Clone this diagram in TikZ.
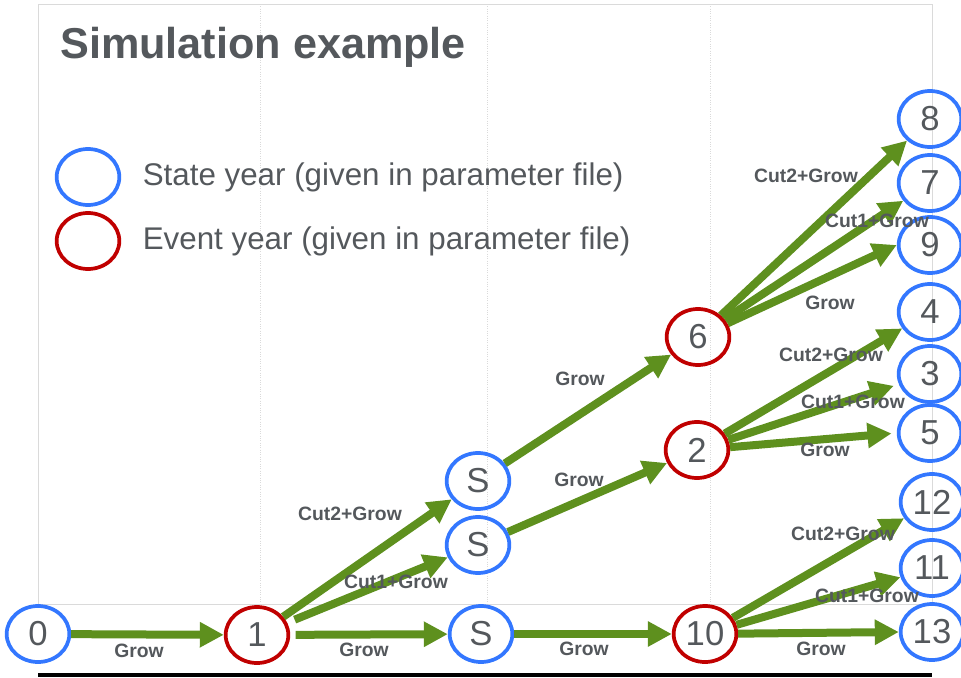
\documentclass[tikz,border=0pt]{standalone}
\usepackage{fontspec}
\setmainfont{Liberation Sans}
\usetikzlibrary{shapes.geometric, arrows.meta, positioning}
\definecolor{stateblue}{RGB}{51, 119, 255}
\definecolor{eventred}{RGB}{192, 0, 0}
\definecolor{growgreen}{RGB}{94, 144, 30}
\definecolor{textgray}{RGB}{84, 88, 92}
\definecolor{gridgray}{RGB}{218, 218, 218}

\tikzset{
  yearnode/.style={ellipse, draw, line width=2.8pt, minimum width=47pt, minimum height=42pt,
    inner sep=0pt, text=textgray, font=\fontsize{26}{26}\selectfont},
  stateyr/.style={yearnode, draw=stateblue},
  eventyr/.style={yearnode, draw=eventred},
  growarrow/.style={-{Triangle[length=18pt, width=18pt]}, line width=6pt, growgreen},
  actlabel/.style={font=\bfseries\fontsize{14.5}{14.5}\selectfont, text=textgray, inner sep=0pt},
  keytext/.style={font=\fontsize{23.5}{23.5}\selectfont, text=textgray, inner sep=0pt, anchor=west},
}

\begin{document}
\begin{tikzpicture}[x=0.75pt, y=-0.75pt]
  \useasboundingbox (0, 0) rectangle (961, 678);

  % === frame and grid ===
  \draw[gridgray, line width=0.75pt] (38, 604) -- (38, 4) -- (932, 4) -- (932, 604) -- cycle;
  \foreach \gx in {260, 487, 710}
    \draw[gridgray, densely dotted, line width=0.75pt] (\gx, 4) -- (\gx, 604);
  \draw[black, line width=3pt] (38, 675) -- (932, 675);

  % === title and key ===
  \node[font=\bfseries\fontsize{32.4}{32.4}\selectfont, text=textgray, inner sep=0pt, anchor=base west]
    (title) at (60, 58) {Simulation example};
  \node[stateyr] (keystate) at (88, 177) {};
  \node[eventyr] (keyevent) at (88, 241) {};
  \node[keytext, right=16pt of keystate] (keystatetxt) {State year (given in parameter file)};
  \node[keytext, right=16pt of keyevent] (keyeventtxt) {Event year (given in parameter file)};

  % === years ===
  \node[stateyr] (n0) at (38, 634) {0};
  \node[eventyr] (n1) at (257, 635) {1};
  \node[stateyr] (stop) at (478, 481) {S};
  \node[stateyr] (smid) at (478, 545) {S};
  \node[stateyr] (sbot) at (481, 634) {S};
  \node[eventyr] (n6) at (698, 337) {6};
  \node[eventyr] (n2) at (697, 450) {2};
  \node[eventyr] (n10) at (705, 634) {10};
  \node[stateyr] (n8) at (930, 119) {8};
  \node[stateyr] (n7) at (930, 183) {7};
  \node[stateyr] (n9) at (930, 245) {9};
  \node[stateyr] (n4) at (930, 312) {4};
  \node[stateyr] (n3) at (930, 374) {3};
  \node[stateyr] (n5) at (930, 433) {5};
  \node[stateyr] (n12) at (932, 502) {12};
  \node[stateyr] (n11) at (932, 568) {11};
  \node[stateyr] (n13) at (932, 632) {13};

  % === actions ===
  \draw[growarrow] (n0) -- (n1);
  \draw[growarrow, shorten <=4pt] (n1) -- (sbot);
  \draw[growarrow] (n1) -- (stop);
  \draw[growarrow, shorten <=6pt] (n1) -- (smid);
  \draw[growarrow] (sbot) -- (n10);
  \draw[growarrow] (smid) -- (n2);
  \draw[growarrow] (stop) -- (n6);
  \draw[growarrow] (n6) -- (n8);
  \draw[growarrow] (n6) -- (n7);
  \draw[growarrow] (n6) -- (n9.west);
  \draw[growarrow] (n2) -- (n4);
  \draw[growarrow, shorten >=4pt] (n2) -- (n3);
  \draw[growarrow, shorten >=4pt] (n2) -- (n5.west);
  \draw[growarrow] (n10) -- (n12);
  \draw[growarrow] (n10) -- (n11);
  \draw[growarrow] (n10) -- (n13.west);

  \node[actlabel] (g01) at (139, 651) {Grow};
  \node[actlabel] (g1s) at (364, 650) {Grow};
  \node[actlabel] (c21) at (350, 514) {Cut2+Grow};
  \node[actlabel] (c11) at (396, 582) {Cut1+Grow};
  \node[actlabel] (gs10) at (584, 649) {Grow};
  \node[actlabel] (gs2) at (579, 480) {Grow};
  \node[actlabel] (gs6) at (580, 379) {Grow};
  \node[actlabel] (c26) at (806, 176) {Cut2+Grow};
  \node[actlabel] (c16) at (877, 221) {Cut1+Grow};
  \node[actlabel] (g6) at (830, 303) {Grow};
  \node[actlabel] (c22) at (831, 355) {Cut2+Grow};
  \node[actlabel] (c12) at (853, 402) {Cut1+Grow};
  \node[actlabel] (g2) at (825, 450) {Grow};
  \node[actlabel] (c210) at (843, 534) {Cut2+Grow};
  \node[actlabel] (c110) at (867, 596) {Cut1+Grow};
  \node[actlabel] (g10) at (821, 649) {Grow};
\end{tikzpicture}
\end{document}
